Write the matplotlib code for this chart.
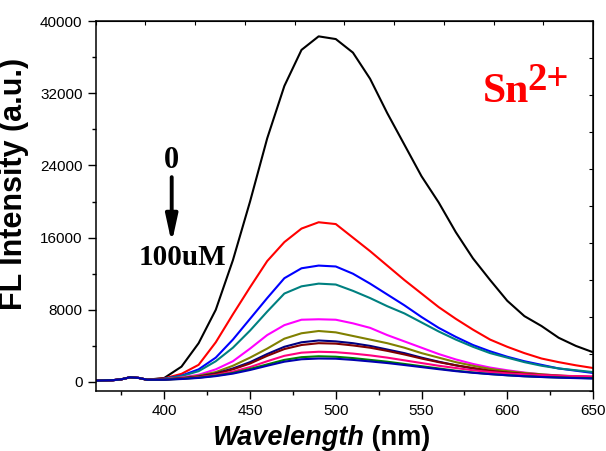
import numpy as np
import matplotlib
matplotlib.use('Agg')
import matplotlib.pyplot as plt

plt.rcParams['font.family'] = ['Liberation Sans', 'DejaVu Sans']

# emission wavelengths (nm)
wl = [360, 370, 375, 380, 385, 390, 400, 410, 420, 430, 440, 450, 460, 470, 480,
      490, 500, 510, 520, 530, 540, 550, 560, 570, 580, 590, 600, 610, 620, 630, 640, 650]

base = [150, 200, 300, 520, 450, 250]

# FL intensity for increasing Sn2+ (0 -> 100 uM)
c_black = base + [450, 1700, 4300, 8000, 13500, 20000, 27000, 32800, 36800, 38300, 38000,
                  36500, 33600, 29800, 26300, 22800, 19900, 16600, 13700, 11300, 9000,
                  7300, 6200, 4900, 4000, 3300]
c_red = base + [400, 900, 1900, 4400, 7500, 10500, 13400, 15500, 17000, 17700, 17500,
                16000, 14500, 12900, 11300, 9800, 8300, 7000, 5800, 4700, 3900,
                3200, 2600, 2200, 1850, 1550]
c_blue = base + [350, 700, 1400, 2700, 4700, 7000, 9300, 11500, 12600, 12900, 12800,
                 12000, 10900, 9700, 8500, 7200, 6000, 5000, 4100, 3400, 2800,
                 2300, 1900, 1500, 1250, 1000]
c_teal = base + [350, 650, 1200, 2300, 3800, 5700, 7800, 9800, 10600, 10900, 10800,
                 10100, 9300, 8400, 7600, 6600, 5600, 4700, 3900, 3200, 2700,
                 2200, 1800, 1500, 1300, 1100]
c_magenta = base + [300, 500, 800, 1400, 2300, 3700, 5200, 6300, 6900, 6950, 6900,
                    6500, 6000, 5200, 4500, 3800, 3100, 2500, 2000, 1600, 1300,
                    1050, 850, 700, 620, 550]
c_olive = base + [300, 450, 700, 1100, 1800, 2700, 3700, 4800, 5400, 5650, 5500,
                  5100, 4700, 4300, 3800, 3200, 2700, 2200, 1800, 1450, 1200,
                  1000, 850, 720, 620, 550]
c_navy = base + [280, 400, 600, 950, 1500, 2200, 3100, 3900, 4400, 4600, 4500,
                 4300, 4000, 3600, 3200, 2700, 2250, 1850, 1500, 1200, 1000,
                 850, 700, 600, 520, 450]
c_wine = base + [280, 400, 580, 900, 1400, 2050, 2900, 3650, 4100, 4300, 4250,
                 4050, 3800, 3450, 3050, 2600, 2200, 1850, 1550, 1250, 1050,
                 900, 780, 680, 600, 550]
c_pink = base + [270, 370, 520, 780, 1150, 1650, 2300, 2900, 3250, 3350, 3300,
                 3150, 2950, 2700, 2400, 2100, 1800, 1550, 1300, 1100, 950,
                 850, 760, 700, 650, 620]
c_green = base + [260, 350, 480, 700, 1000, 1450, 1950, 2450, 2750, 2850, 2800,
                  2650, 2450, 2250, 2000, 1750, 1500, 1250, 1050, 880, 750,
                  640, 560, 500, 460, 420]
c_royal = base + [250, 330, 450, 650, 930, 1330, 1800, 2250, 2520, 2600, 2580,
                  2450, 2280, 2100, 1880, 1650, 1420, 1200, 1020, 870, 740,
                  630, 550, 480, 430, 380]

curves = [c_black, c_red, c_blue, c_teal, c_magenta, c_olive,
          c_navy, c_wine, c_pink, c_green, c_royal]
colors = ['#000000', '#ff0000', '#0000ff', '#008080', '#ff00ff', '#808000',
          '#000080', '#800000', '#ff0080', '#008000', '#0000b0']

fig = plt.figure(figsize=(6.06, 4.51), dpi=100)
ax = fig.add_axes([0.158, 0.133, 0.8205, 0.8204])

for y, c in zip(curves, colors):
    ax.plot(wl, y, color=c, lw=1.5)

ax.set_xlim(360, 650)
ax.set_ylim(-1000, 40000)
ax.set_xticks(np.arange(400, 651, 50))
ax.set_xticks(np.arange(375, 651, 25), minor=True)
ax.set_yticks(np.arange(0, 40001, 8000))
ax.set_yticks(np.arange(4000, 40000, 8000), minor=True)
ax.tick_params(which='major', direction='out', length=6, width=1, labelsize=11)
ax.tick_params(which='minor', direction='out', length=3, width=1)
for s in ax.spines.values():
    s.set_linewidth(1.1)

# inward ticks on top and right
top = ax.secondary_xaxis('top')
top.set_xticks(np.linspace(360, 650, 11))
top.tick_params(direction='in', length=3, labeltop=False)
right = ax.secondary_yaxis('right')
right.set_yticks(np.linspace(-1000, 40000, 11))
right.tick_params(direction='in', length=3, labelright=False)

ax.set_ylabel('FL Intensity (a.u.)', fontsize=22, fontweight='bold')
ax.yaxis.set_label_coords(-0.135, 0.56)

t1 = ax.text(0.233, -0.146, 'Wavelength', transform=ax.transAxes, fontsize=19.5,
             fontweight='bold', fontstyle='italic', ha='left', va='baseline')
ax.annotate(' (nm)', xy=(1, 0), xycoords=t1, fontsize=19.5, fontweight='bold',
            ha='left', va='bottom')

serif = ['Liberation Serif', 'DejaVu Serif']
ax.text(404.3, 23700, '0', fontsize=22, fontweight='bold', family=serif,
        ha='center', va='baseline')
ax.annotate('', xy=(404.3, 15400), xytext=(404.3, 22700),
            arrowprops=dict(arrowstyle='-|>,head_width=0.35,head_length=1.6',
                            color='black', lw=2.8, shrinkA=0, shrinkB=0))
ax.text(410.5, 12960, '100uM', fontsize=21, fontweight='bold', family=serif,
        ha='center', va='baseline')
ax.text(585.8, 31000, 'Sn', fontsize=30, fontweight='bold', family=serif,
        color='#ff0000', ha='left', va='baseline')
ax.text(611.5, 32350, '2+', fontsize=28, fontweight='bold', family=serif,
        color='#ff0000', ha='left', va='baseline')

fig.savefig('out.png', dpi=100)
